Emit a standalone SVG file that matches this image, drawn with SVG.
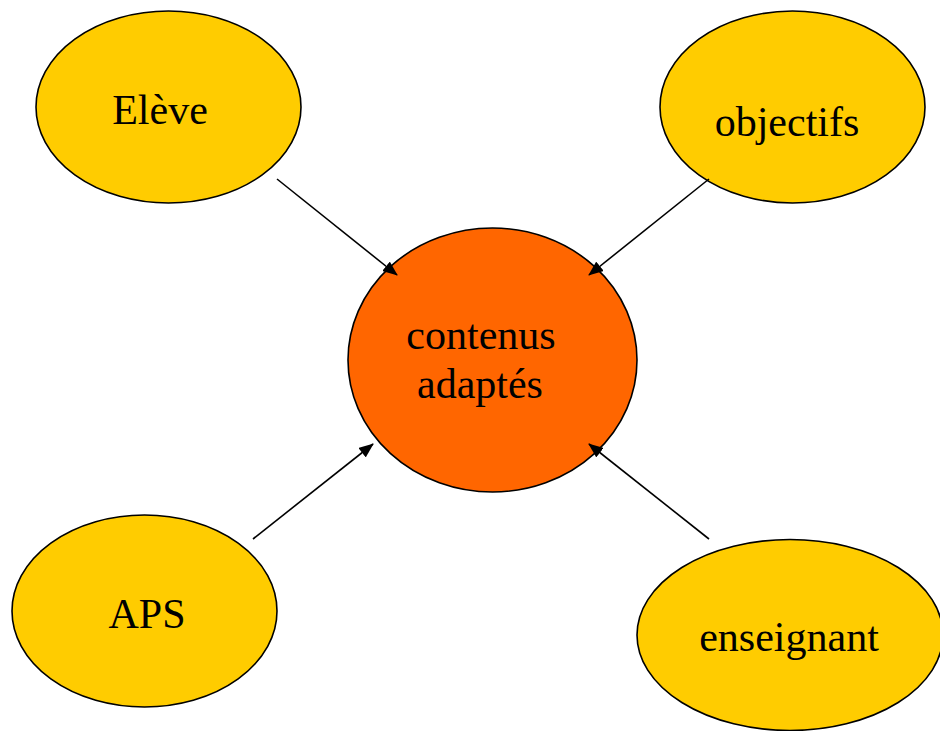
<svg xmlns="http://www.w3.org/2000/svg" width="940" height="731" viewBox="0 0 940 731">
<defs>
<style>
.y{fill:#FFCC00;stroke:#000;stroke-width:1.6}
.o{fill:#FF6600;stroke:#000;stroke-width:1.6}
.t{font-family:"Liberation Serif","Times New Roman",serif;font-size:42px;fill:#000;text-anchor:middle}
.c{stroke:#000;stroke-width:1.6;fill:none;marker-end:url(#ah)}
</style>
<marker id="ah" markerUnits="userSpaceOnUse" viewBox="0 0 15 12" markerWidth="15" markerHeight="12" refX="14" refY="6" orient="auto">
<path d="M0,0 L15,6 L0,12 Z" fill="#000"/>
</marker>
</defs>
<rect width="940" height="731" fill="#fff"/>
<g id="center">
<ellipse class="o" cx="492.5" cy="360" rx="144.5" ry="132"/>
<text class="t" x="481" y="349">contenus</text>
<text class="t" x="480" y="398">adaptés</text>
</g>
<g id="eleve">
<ellipse class="y" cx="168.5" cy="107" rx="132.5" ry="96"/>
<text class="t" x="160" y="124">Elève</text>
</g>
<g id="objectifs">
<ellipse class="y" cx="792.5" cy="107" rx="132.5" ry="96"/>
<text class="t" x="787" y="136">objectifs</text>
</g>
<g id="aps">
<ellipse class="y" cx="144.5" cy="611" rx="132.5" ry="96"/>
<text class="t" x="147" y="628">APS</text>
</g>
<g id="enseignant">
<ellipse class="y" cx="790" cy="635" rx="153" ry="95.5"/>
<text class="t" x="789" y="651">enseignant</text>
</g>
<g id="connectors">
<line class="c" x1="277" y1="179" x2="397" y2="275"/>
<line class="c" x1="709" y1="179" x2="589" y2="275"/>
<line class="c" x1="253" y1="539" x2="373" y2="444"/>
<line class="c" x1="709" y1="539" x2="589" y2="444"/>
</g>
</svg>
